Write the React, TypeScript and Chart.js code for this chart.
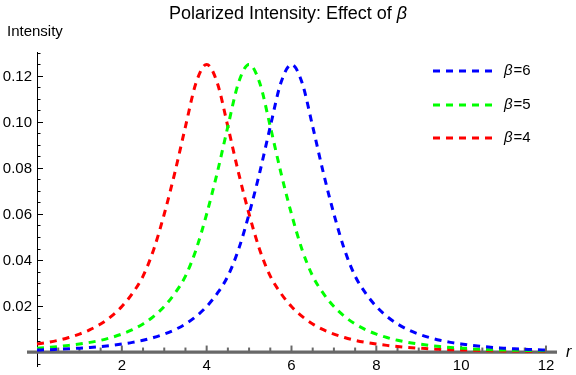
import React, { useEffect, useRef } from "react";
import { Chart, registerables } from "chart.js";

Chart.register(...registerables);

const rValues = [
  0, 0.25, 0.5, 0.75, 1, 1.25, 1.5, 1.75, 2, 2.25, 2.5, 2.75, 3, 3.25, 3.5, 3.75,
  4, 4.25, 4.5, 4.75, 5, 5.25, 5.5, 5.75, 6, 6.25, 6.5, 6.75, 7, 7.25, 7.5, 7.75,
  8, 8.25, 8.5, 8.75, 9, 9.25, 9.5, 9.75, 10, 10.25, 10.5, 10.75, 11, 11.25, 11.5, 11.75, 12,
];

const beta4 = [
  0.0035, 0.0042, 0.0051, 0.0063, 0.0078, 0.0097, 0.0122, 0.0155, 0.0198, 0.0255, 0.033, 0.0445, 0.06, 0.078, 0.098, 0.117,
  0.125,
  0.117, 0.098, 0.078, 0.06, 0.0445, 0.033, 0.0255, 0.0198, 0.0155, 0.0122, 0.0097, 0.0078, 0.0063, 0.0051, 0.0042, 0.0035,
  0.0029, 0.0024, 0.002, 0.0017, 0.0014, 0.0012, 0.001, 0.0009, 0.0008, 0.0007, 0.0006, 0.0005, 0.00045, 0.0004, 0.00035, 0.0003,
];

const beta5 = [
  0.0017, 0.002, 0.0024, 0.0029, 0.0035, 0.0042, 0.0051, 0.0063, 0.0078, 0.0097, 0.0122, 0.0155, 0.0198, 0.0255, 0.033, 0.0445,
  0.06, 0.078, 0.098, 0.117, 0.125,
  0.117, 0.098, 0.078, 0.06, 0.0445, 0.033, 0.0255, 0.0198, 0.0155, 0.0122, 0.0097, 0.0078, 0.0063, 0.0051, 0.0042, 0.0035,
  0.0029, 0.0024, 0.002, 0.0017, 0.0014, 0.0012, 0.001, 0.0009, 0.0008, 0.0007, 0.0006, 0.0005,
];

const beta6 = [
  0.0009, 0.001, 0.0012, 0.0014, 0.0017, 0.002, 0.0024, 0.0029, 0.0035, 0.0042, 0.0051, 0.0063, 0.0078, 0.0097, 0.0122, 0.0155,
  0.0198, 0.0255, 0.033, 0.0445, 0.06, 0.078, 0.098, 0.117, 0.125,
  0.117, 0.098, 0.078, 0.06, 0.0445, 0.033, 0.0255, 0.0198, 0.0155, 0.0122, 0.0097, 0.0078, 0.0063, 0.0051, 0.0042, 0.0035,
  0.0029, 0.0024, 0.002, 0.0017, 0.0014, 0.0012, 0.001, 0.0009,
];

const seriesLabels = ["6", "5", "4"];
const seriesColors = ["#0000ff", "#00ff00", "#ff0000"];

const xMajorTicks = [2, 4, 6, 8, 10, 12];
const xTickLabels = ["2", "4", "6", "8", "10", "12"];
const yMajorTicks = [0.02, 0.04, 0.06, 0.08, 0.1, 0.12];
const yTickLabels = ["0.02", "0.04", "0.06", "0.08", "0.10", "0.12"];

const titleText = "Polarized Intensity: Effect of ";
const yAxisTitle = "Intensity";
const xAxisTitle = "r";

const FONT = "'Liberation Sans', Arial, sans-serif";

const mmaPlugin = {
  id: "mmaAxes",
  beforeDatasetsDraw(chart: any) {
    const ctx = chart.ctx as CanvasRenderingContext2D;
    const xs = chart.scales.x;
    const ys = chart.scales.y;
    const ca = chart.chartArea;
    const x0 = Math.round(xs.getPixelForValue(0));
    const y0 = ys.getPixelForValue(0);
    ctx.save();

    // Y axis
    ctx.strokeStyle = "#000";
    ctx.lineWidth = 1;
    ctx.beginPath();
    ctx.moveTo(x0 + 0.5, ca.top);
    ctx.lineTo(x0 + 0.5, ca.bottom);
    ctx.stroke();
    for (let k = -1; k <= 26; k++) {
      const v = k * 0.005;
      const py = Math.round(ys.getPixelForValue(v)) + 0.5;
      const major = k % 4 === 0;
      ctx.beginPath();
      ctx.moveTo(x0, py);
      ctx.lineTo(x0 + (major ? 6 : 3.5), py);
      ctx.stroke();
    }
    ctx.fillStyle = "#000";
    ctx.font = `15px ${FONT}`;
    ctx.textAlign = "right";
    ctx.textBaseline = "middle";
    yMajorTicks.forEach((v, i) => {
      ctx.fillText(yTickLabels[i], x0 - 5, ys.getPixelForValue(v) + 1);
    });

    // X axis
    ctx.strokeStyle = "#686868";
    ctx.lineWidth = 3.3;
    ctx.beginPath();
    ctx.moveTo(ca.left, y0);
    ctx.lineTo(ca.right, y0);
    ctx.stroke();
    ctx.lineWidth = 2;
    for (let k = 1; k <= 24; k++) {
      const v = k * 0.5;
      const px = xs.getPixelForValue(v);
      const major = k % 4 === 0;
      ctx.beginPath();
      ctx.moveTo(px, y0);
      ctx.lineTo(px, y0 - (major ? 6.5 : 4.5));
      ctx.stroke();
    }
    ctx.fillStyle = "#000";
    ctx.textAlign = "center";
    ctx.textBaseline = "middle";
    xMajorTicks.forEach((v, i) => {
      ctx.fillText(xTickLabels[i], xs.getPixelForValue(v), y0 + 14);
    });

    // axis titles
    ctx.textAlign = "left";
    ctx.textBaseline = "alphabetic";
    ctx.font = `15px ${FONT}`;
    ctx.fillText(yAxisTitle, 7, 36);
    ctx.font = `italic 16px ${FONT}`;
    ctx.fillText(xAxisTitle, 566, 357);

    ctx.restore();
  },
  afterDraw(chart: any) {
    const ctx = chart.ctx as CanvasRenderingContext2D;
    ctx.save();
    // Title
    ctx.fillStyle = "#000";
    ctx.textBaseline = "alphabetic";
    ctx.font = `18px ${FONT}`;
    const w1 = ctx.measureText(titleText).width;
    ctx.font = `italic 18px ${FONT}`;
    const w2 = ctx.measureText("β").width;
    const start = 288 - (w1 + w2) / 2;
    ctx.textAlign = "left";
    ctx.font = `18px ${FONT}`;
    ctx.fillText(titleText, start, 18.5);
    ctx.font = `italic 18px ${FONT}`;
    ctx.fillText("β", start + w1, 18.5);

    // Legend
    const ys = [71, 105, 138];
    seriesLabels.forEach((lab, i) => {
      const y = ys[i];
      ctx.strokeStyle = seriesColors[i];
      ctx.lineWidth = 3;
      ctx.setLineDash([7, 6]);
      ctx.beginPath();
      ctx.moveTo(433, y);
      ctx.lineTo(492, y);
      ctx.stroke();
      ctx.setLineDash([]);
      ctx.fillStyle = "#000";
      ctx.textBaseline = "middle";
      ctx.font = `italic 15px ${FONT}`;
      ctx.fillText("β", 504, y);
      const bw = ctx.measureText("β").width;
      ctx.font = `15px ${FONT}`;
      ctx.fillText("=" + lab, 504 + bw + 1, y);
    });
    ctx.restore();
  },
};

export default function App() {
  const canvasRef = useRef<HTMLCanvasElement | null>(null);

  useEffect(() => {
    if (!canvasRef.current) return;
    const allSeries = [beta6, beta5, beta4];
    const chart = new Chart(canvasRef.current, {
      type: "line",
      data: {
        datasets: allSeries.map((s, i) => ({
          label: "β=" + seriesLabels[i],
          data: rValues.map((r, j) => ({ x: r, y: s[j] })),
          borderColor: seriesColors[i],
          backgroundColor: seriesColors[i],
          borderWidth: 3,
          borderDash: [7, 6],
          pointRadius: 0,
          fill: false,
          cubicInterpolationMode: "monotone" as const,
        })),
      },
      options: {
        responsive: false,
        animation: false,
        devicePixelRatio: 1,
        layout: { padding: { left: 27, right: 19, top: 52, bottom: 8 } },
        scales: {
          x: { type: "linear", min: -0.236, max: 12.26, display: false },
          y: { type: "linear", min: -0.0065, max: 0.1304, display: false },
        },
        plugins: {
          legend: { display: false },
          title: { display: false },
          tooltip: { enabled: false },
        },
      },
      plugins: [mmaPlugin],
    });
    return () => chart.destroy();
  }, []);

  return (
    <div style={{ position: "absolute", left: 0, top: 0, width: 576, height: 375, background: "#fff" }}>
      <canvas ref={canvasRef} width={576} height={375} style={{ width: 576, height: 375, display: "block" }} />
    </div>
  );
}
